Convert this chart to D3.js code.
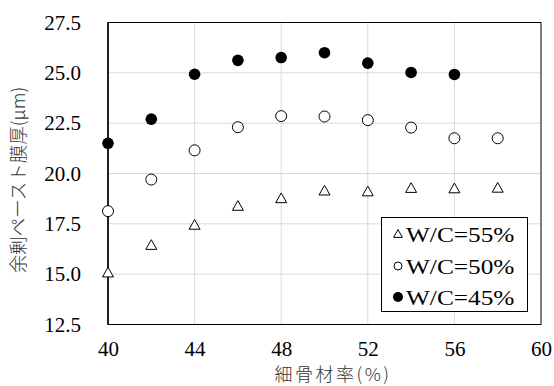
<!DOCTYPE html>
<html>
<head>
<meta charset="utf-8">
<script src="https://cdn.jsdelivr.net/npm/d3@7/dist/d3.min.js"></script>
<style>
  body { margin: 0; background: #fff; }
  svg { display: block; }
  text.serif { font-family: "Liberation Serif", "Times New Roman", serif; }
  text.jp { font-family: "Noto Sans CJK JP", "Noto Sans", sans-serif; }
</style>
</head>
<body>
<svg id="chart" width="554" height="386"></svg>
<script>
// data
const ratios = [40, 42, 44, 46, 48, 50, 52, 54, 56, 58];
const wc55 = [15.07, 16.44, 17.44, 18.38, 18.76, 19.14, 19.10, 19.27, 19.25, 19.28];
const wc50 = [18.13, 19.70, 21.15, 22.30, 22.85, 22.83, 22.65, 22.28, 21.75, 21.75];
const wc45 = [21.50, 22.70, 24.93, 25.62, 25.76, 26.00, 25.48, 25.02, 24.92];
const xTicks = [40, 44, 48, 52, 56, 60];
const yTicks = [12.5, 15.0, 17.5, 20.0, 22.5, 25.0, 27.5];
const seriesNames = ['W/C=55%', 'W/C=50%', 'W/C=45%'];

const svg = d3.select('#chart');
const margin = { left: 108, right: 13, top: 22.5, bottom: 61.5 };
const width = +svg.attr('width');
const height = +svg.attr('height');

const x = d3.scaleLinear().domain([40, 60]).range([margin.left, width - margin.right]);
const y = d3.scaleLinear().domain([12.5, 27.5]).range([height - margin.bottom, margin.top]);

// grid
svg.append('g')
  .selectAll('line')
  .data(xTicks.slice(1, -1))
  .join('line')
  .attr('x1', d => x(d)).attr('x2', d => x(d))
  .attr('y1', y(12.5)).attr('y2', y(27.5))
  .attr('stroke', '#d9d9d9').attr('stroke-width', 1);

svg.append('g')
  .selectAll('line')
  .data(yTicks.slice(1, -1))
  .join('line')
  .attr('x1', x(40)).attr('x2', x(60))
  .attr('y1', d => y(d)).attr('y2', d => y(d))
  .attr('stroke', '#d9d9d9').attr('stroke-width', 1);

// plot frame
svg.append('rect')
  .attr('x', x(40)).attr('y', y(27.5))
  .attr('width', x(60) - x(40)).attr('height', y(12.5) - y(27.5))
  .attr('fill', 'none').attr('stroke', '#000').attr('stroke-width', 1);

// axes (labels only)
const xAxis = svg.append('g')
  .attr('transform', `translate(0,${y(12.5)})`)
  .call(d3.axisBottom(x).tickValues(xTicks).tickSize(0).tickPadding(17).tickFormat(d3.format('d')))
  .attr('font-family', null).attr('font-size', null);
xAxis.select('.domain').remove();
xAxis.selectAll('text')
  .attr('class', 'serif').style('font-size', '21px').attr('fill', '#000');

const yAxis = svg.append('g')
  .attr('transform', `translate(${x(40)},0)`)
  .call(d3.axisLeft(y).tickValues(yTicks).tickSize(0).tickPadding(27).tickFormat(d3.format('.1f')))
  .attr('font-family', null).attr('font-size', null);
yAxis.select('.domain').remove();
yAxis.selectAll('text')
  .attr('class', 'serif').style('font-size', '21px').attr('fill', '#000');

// left axis line
svg.append('line')
  .attr('x1', x(40)).attr('x2', x(40))
  .attr('y1', y(12.5)).attr('y2', y(27.5))
  .attr('stroke', '#000').attr('stroke-width', 1.5);

// axis titles
svg.append('text')
  .attr('class', 'jp')
  .attr('x', 333).attr('y', 373)
  .attr('text-anchor', 'middle').attr('dominant-baseline', 'central')
  .style('font-size', '18px').style('font-weight', 300)
  .style('letter-spacing', '2.5px').attr('fill', '#333')
  .text('細骨材率(%)');

svg.append('text')
  .attr('class', 'jp')
  .attr('transform', 'translate(17,180) rotate(-90)')
  .attr('text-anchor', 'middle').attr('dominant-baseline', 'central')
  .style('font-size', '18.5px').style('font-weight', 300)
  .attr('fill', '#333')
  .text('余剰ペースト膜厚(μm)');

const tri = (s) => `M0,${-s * 0.55}L${s * 0.55},${s * 0.42}L${-s * 0.55},${s * 0.42}Z`;

// series
svg.append('g')
  .selectAll('path')
  .data(wc55.map((v, i) => [ratios[i], v]))
  .join('path')
  .attr('transform', d => `translate(${x(d[0])},${y(d[1])})`)
  .attr('d', tri(10))
  .attr('fill', '#fff').attr('stroke', '#000').attr('stroke-width', 1);

svg.append('g')
  .selectAll('circle')
  .data(wc50.map((v, i) => [ratios[i], v]))
  .join('circle')
  .attr('cx', d => x(d[0])).attr('cy', d => y(d[1])).attr('r', 5.5)
  .attr('fill', '#fff').attr('stroke', '#000').attr('stroke-width', 1);

svg.append('g')
  .selectAll('circle')
  .data(wc45.map((v, i) => [ratios[i], v]))
  .join('circle')
  .attr('cx', d => x(d[0])).attr('cy', d => y(d[1])).attr('r', 5.8)
  .attr('fill', '#000');

// legend
const legend = svg.append('g');
legend.append('rect')
  .attr('x', 381.5).attr('y', 217.5).attr('width', 146).attr('height', 94)
  .attr('fill', '#fff').attr('stroke', '#000').attr('stroke-width', 1);

const rowY = [234, 266, 297];
seriesNames.forEach((name, i) => {
  const g = legend.append('g').attr('transform', `translate(398,${rowY[i]})`);
  if (i === 0) {
    g.append('path').attr('d', tri(8)).attr('fill', '#fff').attr('stroke', '#000');
  } else if (i === 1) {
    g.append('circle').attr('r', 4).attr('fill', '#fff').attr('stroke', '#000');
  } else {
    g.append('circle').attr('r', 5).attr('fill', '#000');
  }
  // the source legend text is stretched sideways a little
  g.append('text')
    .attr('class', 'serif')
    .attr('transform', 'translate(8,0) scale(1.15,1)')
    .attr('dy', '0.35em')
    .style('font-size', '22px')
    .attr('fill', '#000')
    .text(name);
});
</script>
</body>
</html>
